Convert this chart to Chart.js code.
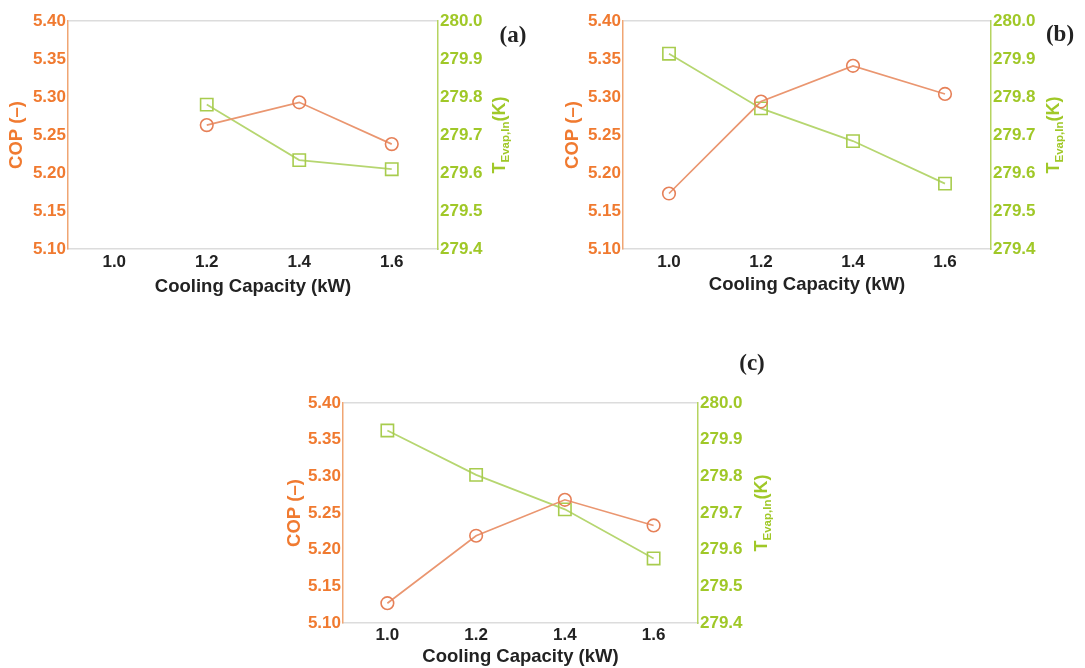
<!DOCTYPE html>
<html><head><meta charset="utf-8">
<script src="https://cdn.jsdelivr.net/npm/chart.js@4.4.1/dist/chart.umd.min.js"></script>
<style>
html,body{margin:0;padding:0;background:#fff;width:1085px;height:668px;overflow:hidden;position:relative;}
canvas{position:absolute;}
.lbl{position:absolute;font-family:"Liberation Serif","DejaVu Serif",serif;font-weight:bold;font-size:23px;color:#222;transform:translate(-50%,-50%);white-space:nowrap;}
</style></head><body>
<canvas id="ca" width="540" height="300" style="left:0px;top:0px"></canvas>
<canvas id="cb" width="530" height="300" style="left:555px;top:0px"></canvas>
<canvas id="cc" width="520" height="328" style="left:280px;top:340px"></canvas>
<div class="lbl" style="left:513px;top:35px">(a)</div>
<div class="lbl" style="left:1060px;top:34px">(b)</div>
<div class="lbl" style="left:752px;top:363px">(c)</div>
<script>
// ---- data ----
const coolingCapacity = [1.0, 1.2, 1.4, 1.6];
const xTicks = [1.0, 1.2, 1.4, 1.6];
const copTicks = [5.10, 5.15, 5.20, 5.25, 5.30, 5.35, 5.40];
const tempTicks = [279.4, 279.5, 279.6, 279.7, 279.8, 279.9, 280.0];

const copA = [null, 5.263, 5.293, 5.238];
const tEvapA = [null, 279.780, 279.634, 279.610];
const copB = [5.173, 5.294, 5.341, 5.304];
const tEvapB = [279.914, 279.770, 279.684, 279.572];
const copC = [5.127, 5.219, 5.268, 5.233];
const tEvapC = [279.925, 279.804, 279.710, 279.576];

const xTitle = 'Cooling Capacity (kW)';
const copTitle = 'COP (–)';

// ---- styles ----
const ORANGE_TXT = 'rgb(240,122,48)';
const ORANGE_AX = 'rgb(240,165,115)';
const ORANGE_LN = 'rgb(234,150,112)';
const ORANGE_PT = 'rgb(230,128,88)';
const GREEN_TXT = 'rgb(160,200,40)';
const GREEN_AX = 'rgb(182,212,96)';
const GREEN_LN = 'rgb(182,214,112)';
const GREEN_PT = 'rgb(168,204,78)';
const GRAY = '#dcdcdc';
const FONT = '"Liberation Sans", Arial, sans-serif';
const TITLE_SIZE = 18.5;

const rightTitle = {
  id: 'rightTitle',
  afterDraw(chart, args, opts) {
    const s = chart.scales.y2, ctx = chart.ctx;
    const cx = s.left + opts.offset;
    const cy = (chart.chartArea.top + chart.chartArea.bottom) / 2;
    const big = 'bold 18px ' + FONT, small = 'bold 11.5px ' + FONT;
    ctx.save();
    ctx.fillStyle = GREEN_TXT;
    ctx.font = big;
    const wT = ctx.measureText('T').width, wK = ctx.measureText('(K)').width;
    ctx.font = small;
    const wS = ctx.measureText('Evap,In').width;
    const w = wT + wS + wK;
    ctx.translate(cx, cy);
    ctx.rotate(-Math.PI / 2);
    ctx.textBaseline = 'alphabetic';
    ctx.textAlign = 'left';
    let x = -w / 2;
    ctx.font = big; ctx.fillText('T', x, 0); x += wT;
    ctx.font = small; ctx.fillText('Evap,In', x, 4); x += wS;
    ctx.font = big; ctx.fillText('(K)', x, 0);
    ctx.restore();
  }
};

function pts(arr) { return coolingCapacity.map((x, i) => ({ x: x, y: arr[i] })); }

function makeChart(id, cop, temp, L) {
  const ctx = document.getElementById(id);
  return new Chart(ctx, {
    type: 'line',
    data: {
      datasets: [
        { label: 'COP', data: pts(cop), yAxisID: 'y', borderColor: ORANGE_LN, borderWidth: 1.7,
          pointStyle: 'circle', pointRadius: 6.3, pointBorderWidth: 1.6, pointBorderColor: ORANGE_PT,
          pointBackgroundColor: 'rgba(0,0,0,0)', fill: false, tension: 0 },
        { label: 'T', data: pts(temp), yAxisID: 'y2', borderColor: GREEN_LN, borderWidth: 1.7,
          pointStyle: 'rect', pointRadius: 8.7, pointBorderWidth: 1.6, pointBorderColor: GREEN_PT,
          pointBackgroundColor: 'rgba(0,0,0,0)', fill: false, tension: 0 }
      ]
    },
    options: {
      responsive: false, animation: false, devicePixelRatio: 1,
      layout: { padding: { left: 0, top: L.top, right: L.right, bottom: 0 } },
      plugins: { legend: { display: false }, tooltip: { enabled: false }, rightTitle: { offset: L.rtOff } },
      scales: {
        x: {
          type: 'linear', min: 0.9, max: 1.7,
          afterBuildTicks: s => { s.ticks = xTicks.map(v => ({ value: v })); },
          afterFit: s => { s.height = L.xh; },
          ticks: { padding: L.xpad, color: '#222', font: { family: FONT, size: 17, weight: 'bold' },
                   callback: v => Number(v).toFixed(1) },
          grid: { display: false, drawTicks: false },
          border: { display: true, color: GRAY, width: 1.5 },
          title: { display: true, text: xTitle, color: '#222', padding: { top: 0, bottom: L.xtpad },
                   font: { family: FONT, size: TITLE_SIZE, weight: 'bold' } }
        },
        y: {
          position: 'left', min: 5.10, max: 5.40,
          afterBuildTicks: s => { s.ticks = copTicks.map(v => ({ value: v })); },
          afterFit: s => { s.width = L.yw; },
          ticks: { padding: 2, color: ORANGE_TXT, font: { family: FONT, size: 17, weight: 'bold' },
                   callback: v => Number(v).toFixed(2) },
          grid: { drawTicks: false, lineWidth: 1.5,
                  color: c => (c.tick && Math.abs(c.tick.value - 5.40) < 1e-6) ? GRAY : 'rgba(0,0,0,0)' },
          border: { display: true, color: ORANGE_AX, width: 1.5 },
          title: { display: true, text: copTitle, color: ORANGE_TXT, padding: { top: L.ytpad, bottom: 0 },
                   font: { family: FONT, size: TITLE_SIZE, weight: 'bold' } }
        },
        y2: {
          position: 'right', min: 279.4, max: 280.0,
          afterBuildTicks: s => { s.ticks = tempTicks.map(v => ({ value: v })); },
          afterFit: s => { s.width = 75; },
          ticks: { padding: 2, color: GREEN_TXT, font: { family: FONT, size: 17, weight: 'bold' },
                   callback: v => Number(v).toFixed(1) },
          grid: { display: false, drawTicks: false },
          border: { display: true, color: GREEN_AX, width: 1.5 }
        }
      }
    },
    plugins: [rightTitle]
  });
}

makeChart('ca', copA, tEvapA, { top: 21, right: 27, xh: 51, xpad: 3.5, xtpad: 1.8, yw: 68, ytpad: 6.0, rtOff: 67 });
makeChart('cb', copB, tEvapB, { top: 21, right: 19, xh: 51, xpad: 3, xtpad: 3.8, yw: 68, ytpad: 7.0, rtOff: 68 });
makeChart('cc', copC, tEvapC, { top: 63, right: 27, xh: 45, xpad: 2, xtpad: 0, yw: 63, ytpad: 4.0, rtOff: 69 });
</script>
</body></html>
